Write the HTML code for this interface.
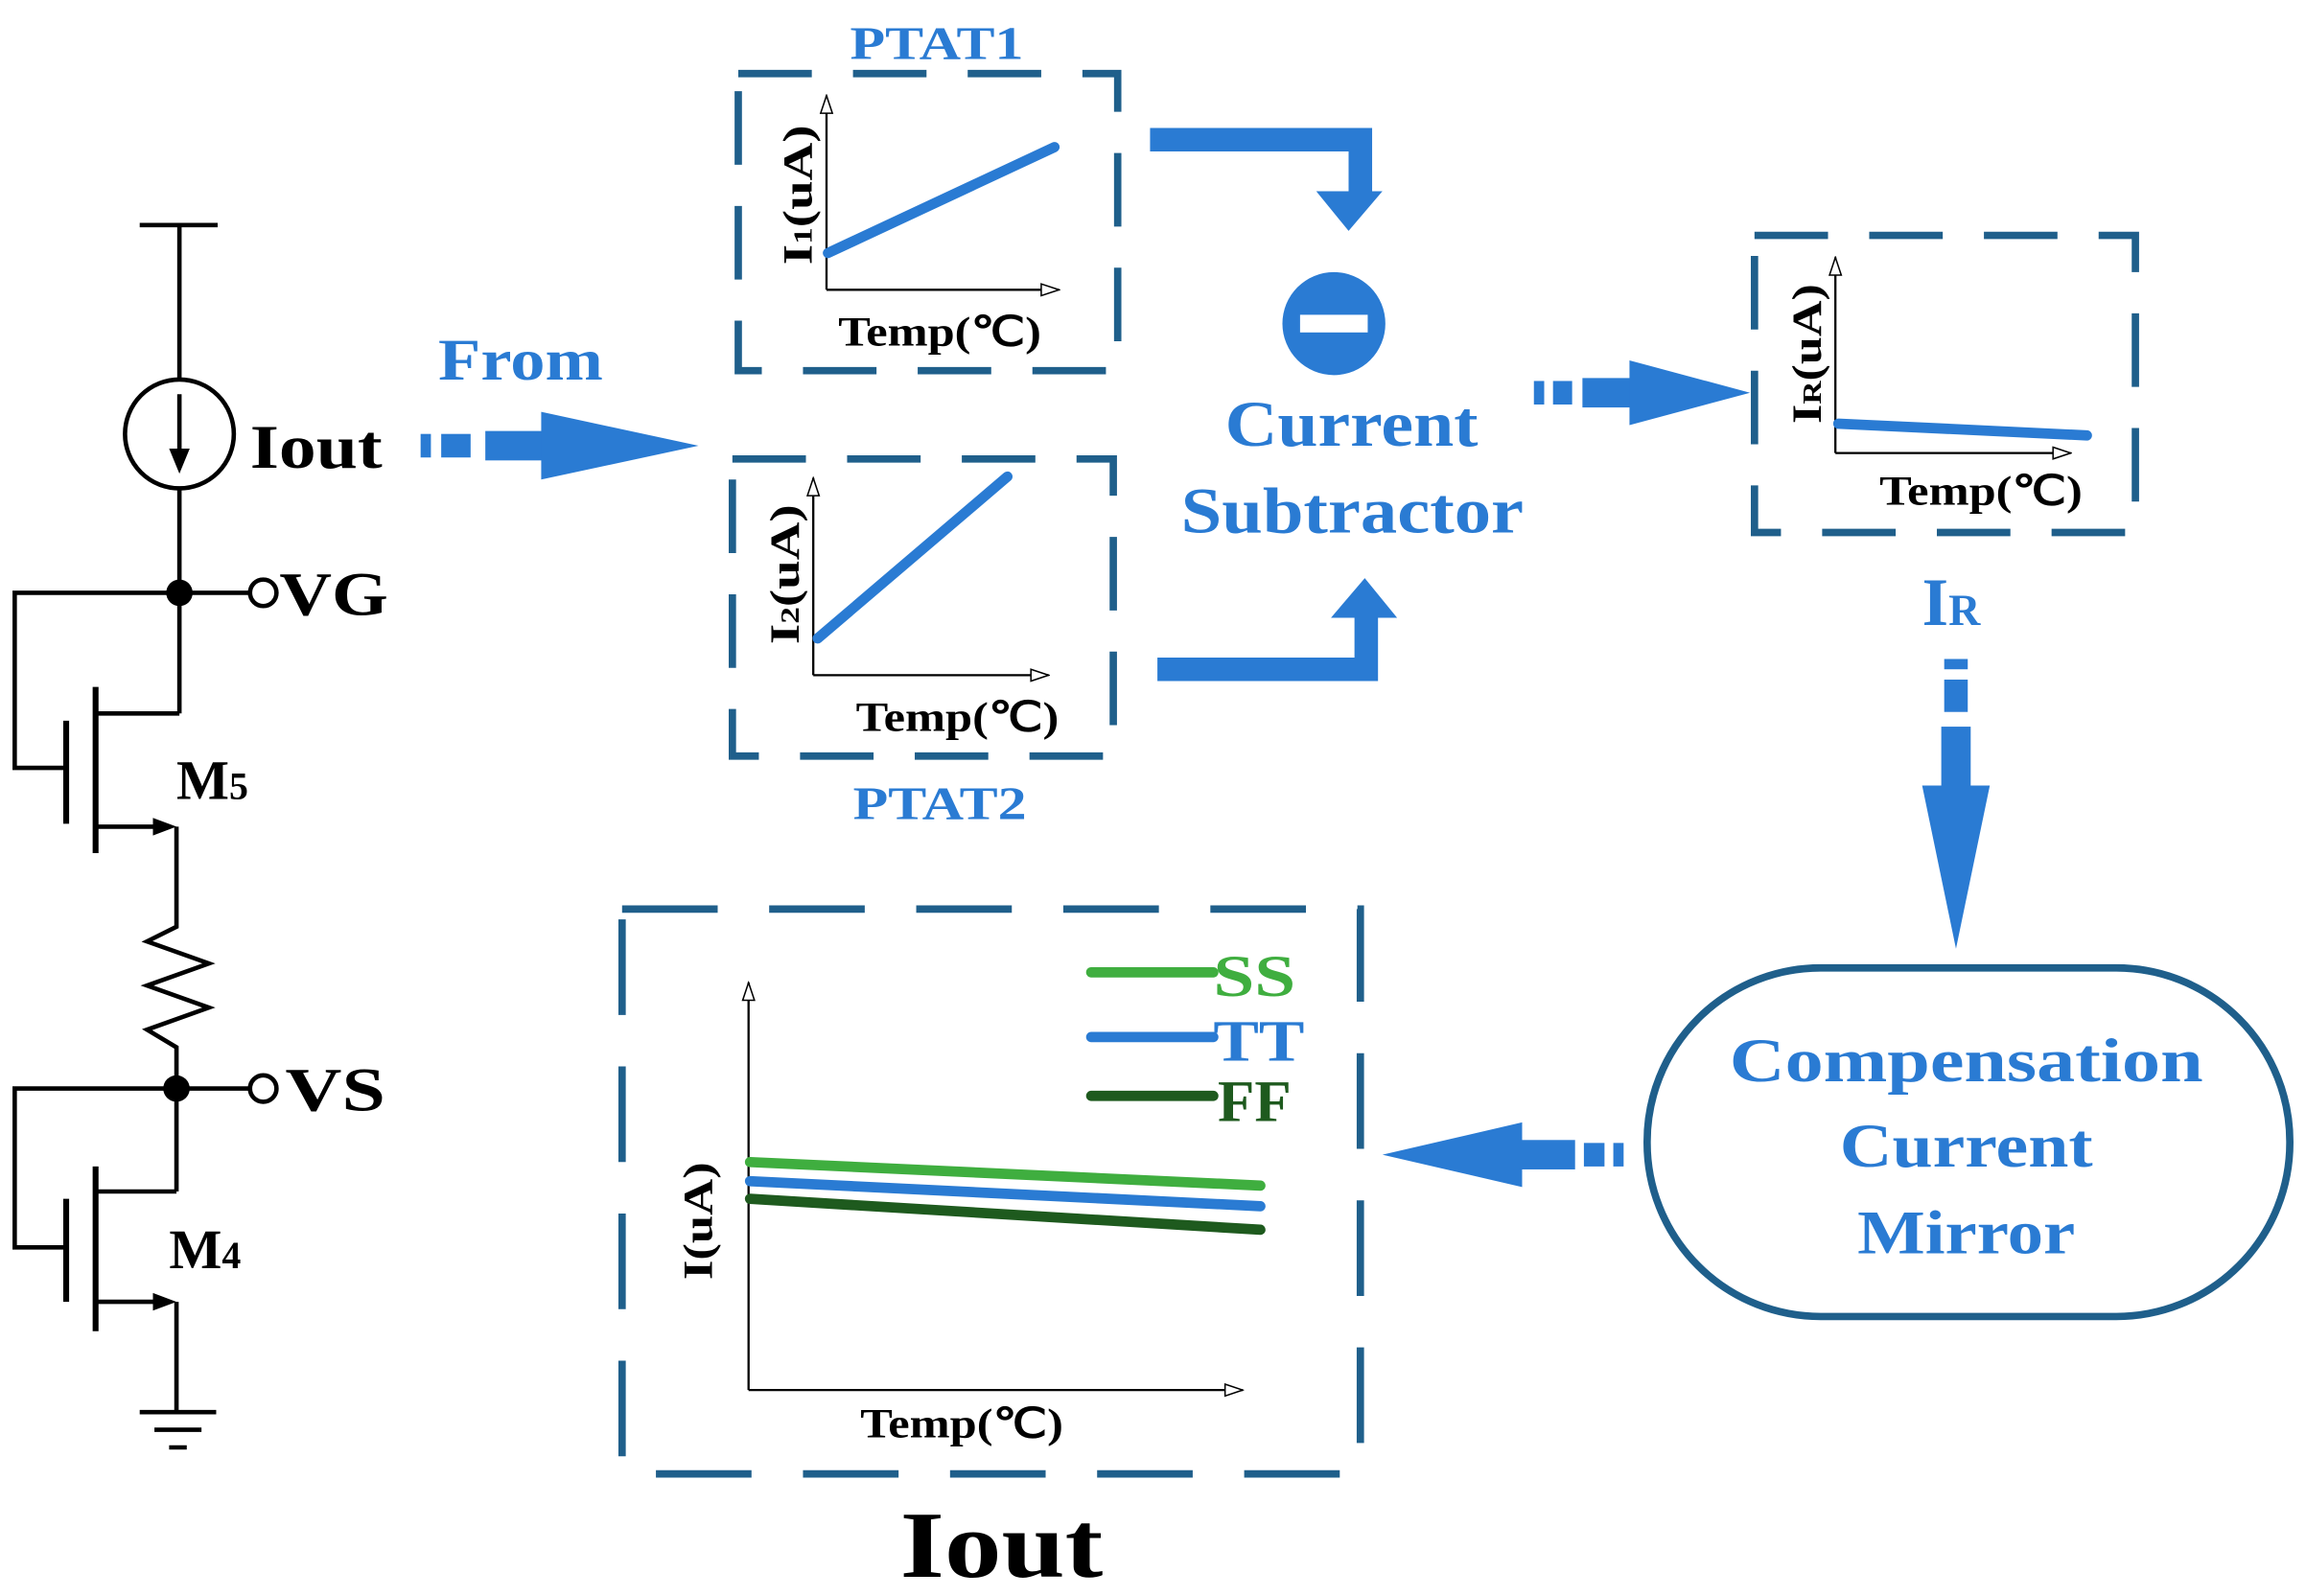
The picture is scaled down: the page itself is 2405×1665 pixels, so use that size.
<!DOCTYPE html>
<html><head><meta charset="utf-8"><style>
html,body{margin:0;padding:0;background:#fff;}
svg{display:block;}
text{font-family:"Liberation Serif",serif;font-weight:bold;}
</style></head><body>
<svg width="2405" height="1665" viewBox="0 0 1568 1085" preserveAspectRatio="none" xmlns="http://www.w3.org/2000/svg">
<defs>
<marker id="oa" markerWidth="14" markerHeight="10" refX="13" refY="5" orient="auto" markerUnits="userSpaceOnUse">
<path d="M1,1 L13,5 L1,9 Z" fill="#fff" stroke="#000" stroke-width="1"/></marker>
</defs>
<rect width="1568" height="1085" fill="#fff"/>
<g stroke="#000" stroke-width="3" fill="none">
<line x1="95" y1="153" x2="148" y2="153"/>
<line x1="122" y1="153" x2="122" y2="258"/>
<circle cx="122" cy="295" r="37"/>
<line x1="122" y1="268" x2="122" y2="312"/>
<line x1="122" y1="332" x2="122" y2="485"/>
<line x1="122" y1="403" x2="170" y2="403"/>
<circle cx="179" cy="403" r="9" fill="#fff"/>
<polyline points="122,403 10,403 10,522 45,522"/>
<line x1="45" y1="490" x2="45" y2="560" stroke-width="4"/>
<line x1="65" y1="467" x2="65" y2="580" stroke-width="4"/>
<line x1="65" y1="485" x2="122" y2="485"/>
<line x1="65" y1="562" x2="110" y2="562"/>
<polyline points="120,562 120,630 100,640 142,655 100,670 142,685 100,700 120,712 120,810"/>
<line x1="120" y1="740" x2="170" y2="740"/>
<circle cx="179" cy="740" r="9" fill="#fff"/>
<polyline points="120,740 10,740 10,848 45,848"/>
<line x1="45" y1="815" x2="45" y2="885" stroke-width="4"/>
<line x1="65" y1="793" x2="65" y2="905" stroke-width="4"/>
<line x1="65" y1="810" x2="120" y2="810"/>
<line x1="65" y1="885" x2="110" y2="885"/>
<line x1="120" y1="885" x2="120" y2="960"/>
<line x1="95" y1="960" x2="147" y2="960"/>
<line x1="105" y1="972" x2="137" y2="972"/>
<line x1="115" y1="984" x2="127" y2="984"/>
</g>
<g fill="#000">
<path d="M115,305 L129,305 L122,322 Z"/>
<circle cx="122" cy="403" r="9"/>
<circle cx="120" cy="740" r="9"/>
<path d="M104,556 L120,562 L104,568 Z"/>
<path d="M104,879 L120,885 L104,891 Z"/>
</g>
<g font-size="42" fill="#000">
<text x="170" y="318" textLength="90" lengthAdjust="spacingAndGlyphs">Iout</text>
<text x="190" y="418" textLength="74" lengthAdjust="spacingAndGlyphs">VG</text>
<text x="194" y="755" textLength="68" lengthAdjust="spacingAndGlyphs">VS</text>
</g>
<text x="120" y="543" font-size="38">M<tspan font-size="26">5</tspan></text>
<text x="115" y="862" font-size="38">M<tspan font-size="26">4</tspan></text>

<text x="298" y="258" font-size="40" fill="#2a7bd3" textLength="112" lengthAdjust="spacingAndGlyphs">From</text>
<g fill="#2a7bd3">
<rect x="286" y="295" width="7" height="16"/>
<rect x="300" y="295" width="20" height="16"/>
<rect x="330" y="293" width="42" height="20"/>
<path d="M368,280 L475,303 L368,326 Z"/>
</g>

<g stroke="#1f5f8b" stroke-width="5" fill="none">
<rect x="502" y="50" width="258" height="202" stroke-dasharray="50,28"/>
<rect x="498" y="312" width="259" height="202" stroke-dasharray="50,28"/>
<rect x="1193" y="160" width="259" height="202" stroke-dasharray="50,28"/>
<rect x="423" y="618" width="502" height="384" stroke-dasharray="65,35"/>
</g>
<text x="578" y="40" font-size="32" fill="#2a7bd3" textLength="118" lengthAdjust="spacingAndGlyphs">PTAT1</text>
<text x="580" y="557" font-size="32" fill="#2a7bd3" textLength="118" lengthAdjust="spacingAndGlyphs">PTAT2</text>

<g stroke="#000" stroke-width="1.5" fill="none" marker-end="url(#oa)">
<line x1="562" y1="197" x2="562" y2="65"/>
<line x1="562" y1="197" x2="720" y2="197"/>
<line x1="553" y1="459" x2="553" y2="325"/>
<line x1="553" y1="459" x2="713" y2="459"/>
<line x1="1248" y1="308" x2="1248" y2="175"/>
<line x1="1248" y1="308" x2="1408" y2="308"/>
<line x1="509" y1="945" x2="509" y2="668"/>
<line x1="509" y1="945" x2="845" y2="945"/>
</g>
<g stroke-width="7" stroke-linecap="round">
<line x1="563" y1="172" x2="717" y2="100" stroke="#2a7bd3"/>
<line x1="556" y1="434" x2="685" y2="324" stroke="#2a7bd3"/>
<line x1="1250" y1="288" x2="1419" y2="296" stroke="#2a7bd3"/>
<line x1="510" y1="790" x2="857" y2="806" stroke="#3fae3f"/>
<line x1="510" y1="803" x2="857" y2="820" stroke="#2a7bd3"/>
<line x1="510" y1="815" x2="857" y2="836" stroke="#1e5a1e"/>
<line x1="742" y1="661" x2="825" y2="661" stroke="#3fae3f"/>
<line x1="742" y1="705" x2="825" y2="705" stroke="#2a7bd3"/>
<line x1="742" y1="745" x2="825" y2="745" stroke="#1e5a1e"/>
</g>
<g font-size="28" fill="#000">
<text x="570" y="235" textLength="138" lengthAdjust="spacingAndGlyphs">Temp(℃)</text>
<text x="582" y="497" textLength="138" lengthAdjust="spacingAndGlyphs">Temp(℃)</text>
<text x="1278" y="343" textLength="138" lengthAdjust="spacingAndGlyphs">Temp(℃)</text>
<text x="585" y="977" textLength="138" lengthAdjust="spacingAndGlyphs">Temp(℃)</text>
<text transform="translate(552,180) rotate(-90)" textLength="95" lengthAdjust="spacingAndGlyphs">I<tspan font-size="18">1</tspan>(uA)</text>
<text transform="translate(543,438) rotate(-90)" textLength="95" lengthAdjust="spacingAndGlyphs">I<tspan font-size="18">2</tspan>(uA)</text>
<text transform="translate(1238,288) rotate(-90)" textLength="95" lengthAdjust="spacingAndGlyphs">I<tspan font-size="18">R</tspan>(uA)</text>
<text transform="translate(484,870) rotate(-90)" textLength="80" lengthAdjust="spacingAndGlyphs">I(uA)</text>
</g>
<text x="825" y="677" font-size="40" fill="#3fae3f" textLength="56" lengthAdjust="spacingAndGlyphs">SS</text>
<text x="825" y="721" font-size="40" fill="#2a7bd3" textLength="62" lengthAdjust="spacingAndGlyphs">TT</text>
<text x="828" y="762" font-size="40" fill="#1e5a1e" textLength="50" lengthAdjust="spacingAndGlyphs">FF</text>

<g fill="#2a7bd3">
<path d="M782,87 L933,87 L933,130 L940,130 L917,157 L895,130 L917,130 L917,103 L782,103 Z"/>
<path d="M787,447 L921,447 L921,420 L905,420 L928,393 L950,420 L937,420 L937,463 L787,463 Z"/>
<circle cx="907" cy="220" r="35"/>
</g>
<rect x="884" y="214" width="46" height="12" fill="#fff"/>
<text x="833" y="303" font-size="44" fill="#2a7bd3" textLength="172" lengthAdjust="spacingAndGlyphs">Current</text>
<text x="803" y="362" font-size="44" fill="#2a7bd3" textLength="233" lengthAdjust="spacingAndGlyphs">Subtractor</text>

<g fill="#2a7bd3">
<rect x="1043" y="259" width="7" height="16"/>
<rect x="1056" y="259" width="13" height="16"/>
<rect x="1076" y="257" width="36" height="20"/>
<path d="M1108,245 L1190,267 L1108,289 Z"/>
</g>
<text x="1307" y="425" font-size="46" fill="#2a7bd3">I<tspan font-size="30">R</tspan></text>
<g fill="#2a7bd3">
<rect x="1322" y="448" width="16" height="7"/>
<rect x="1322" y="462" width="16" height="22"/>
<rect x="1320" y="494" width="20" height="42"/>
<path d="M1307,534 L1353,534 L1330,645 Z"/>
</g>
<rect x="1120" y="658" width="437" height="237" rx="118" ry="118" fill="none" stroke="#1f5f8b" stroke-width="5"/>
<g font-size="42" fill="#2a7bd3" text-anchor="middle">
<text x="1337" y="735" textLength="322" lengthAdjust="spacingAndGlyphs">Compensation</text>
<text x="1337" y="793" textLength="172" lengthAdjust="spacingAndGlyphs">Current</text>
<text x="1337" y="852" textLength="148" lengthAdjust="spacingAndGlyphs">Mirror</text>
</g>
<g fill="#2a7bd3">
<path d="M940,785 L1035,763 L1035,807 Z"/>
<rect x="1033" y="775" width="38" height="20"/>
<rect x="1077" y="777" width="14" height="16"/>
<rect x="1097" y="777" width="7" height="16"/>
</g>
<text x="612" y="1072" font-size="64" fill="#000" textLength="138" lengthAdjust="spacingAndGlyphs">Iout</text>
</svg>
</body></html>
